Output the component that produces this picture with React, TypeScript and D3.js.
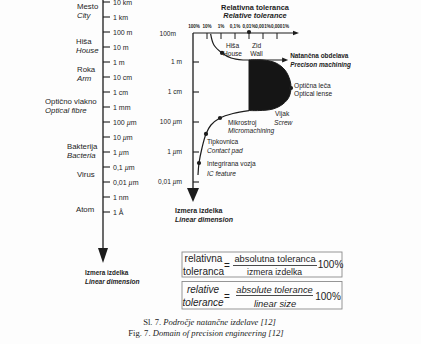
import React from "react";
import * as d3 from "d3";

// ---------- data ----------
const sizeTicks = [1e4, 1e3, 1e2, 10, 1, 0.1, 0.01, 1e-3, 1e-4, 1e-5, 1e-6, 1e-7, 1e-8, 1e-9, 1e-10];
const sizeTickLabels = ["10 km", "1 km", "100 m", "10 m", "1 m", "10 cm", "1 cm", "1 mm", "100 µm", "10 µm", "1 µm", "0,1 µm", "0,01 µm", "1 nm", "1 Å"];

const objectNamesSl = ["Mesto", "Hiša", "Roka", "Optično vlakno", "Bakterija", "Virus", "Atom"];
const objectNamesEn = ["City", "House", "Arm", "Optical fibre", "Bacteria", "", ""];
const objectSizes = [2500, 12, 0.17, 1.1e-3, 1.1e-6, 3e-8, 1.6e-10];

const rightSizeTicks = [100, 1, 0.01, 1e-4, 1e-6, 1e-8];
const rightSizeLabels = ["100m", "1 m", "1 cm", "100 µm", "1 µm", "0,01 µm"];

const tolTicks = [100, 10, 1, 0.1, 0.01, 0.001, 0.0001];
const tolLabels = ["100%", "10%", "1%", "0,1%", "0,01%", "0,001%", "0,0001%"];

// [relative tolerance %, linear size m]
const conventionalCurve: [number, number][] = [
  [5.5, 75], [3.2, 13.6], [0.85, 4], [0.19, 1.85], [0.027, 1.36],
];
const conventionalArrowEnd: [number, number] = [1.6e-5, 1.36];
const precisionRegion: [number, number][] = [
  [0.01, 1.36], [0.001, 1.36], [1.2e-4, 0.86], [2.7e-5, 0.29], [1.2e-5, 0.063],
  [1e-5, 0.0185], [1.4e-5, 0.0046], [3.7e-5, 0.0016], [1.9e-4, 7.4e-4],
  [1.9e-3, 5.8e-4], [0.01, 5.8e-4],
];
const microCurve: [number, number][] = [
  [0.01, 5.8e-4], [0.14, 3.7e-4], [1.18, 1.85e-4], [5.2, 6.3e-5], [11.8, 1.6e-5],
  [22.8, 1.85e-6], [37.3, 1.85e-7], [44, 2.9e-8],
];
const houseDot: [number, number] = [0.85, 4];
const wallDot: [number, number] = [0.01, 100];
const lensDot: [number, number] = [1e-5, 0.0185];
const microDot: [number, number] = [1.18, 1.85e-4];
const padDot: [number, number] = [11.8, 1.6e-5];
const icDot: [number, number] = [37.3, 1.85e-7];

// ---------- layout ----------
const leftLabelX = [77, 76, 77, 45, 67, 77, 76];
const SANS = "'Liberation Sans', Arial, sans-serif";
const SERIF = "'Liberation Serif', 'Times New Roman', serif";
const INK = "#1c1c1c";

function mu(label: string) {
  const parts = label.split("µ");
  if (parts.length === 1) return label;
  return (
    <>
      {parts[0]}
      <tspan fontStyle="italic">µ</tspan>
      {parts[1]}
    </>
  );
}

export default function App() {
  const y = d3.scaleLog().domain([1e4, 1e-10]).range([2, 212]);
  const x = d3.scaleLog().domain([100, 1e-4]).range([193, 277]);
  const axL = 103;
  const axR = 193;
  const topY = 33;

  const line = d3
    .line<[number, number]>()
    .x((d) => x(d[0]))
    .y((d) => y(d[1]))
    .curve(d3.curveCatmullRom.alpha(0.5));

  const convPath = line(conventionalCurve) + ` L${x(conventionalArrowEnd[0]) - 5},${y(conventionalArrowEnd[1])}`;
  const ax = x(conventionalArrowEnd[0]);
  const ay = y(conventionalArrowEnd[1]);
  const regionPath = line(precisionRegion) + "Z";
  const microPath = line(microCurve) || "";

  const dot = (p: [number, number], k: string) => (
    <circle key={k} cx={x(p[0])} cy={y(p[1])} r={2.1} fill={INK} />
  );

  return (
    <svg
      width={421}
      height={344}
      style={{ position: "absolute", left: 0, top: 0, background: "#fdfdfd" }}
      fontFamily={SANS}
    >
      <rect x={0} y={0} width={421} height={344} fill="#fdfdfd" />
      <g opacity={0.995} fill={INK}>
      {/* ---------- left axis ---------- */}
      <line x1={axL} x2={axL} y1={-4} y2={250} stroke={INK} strokeWidth={1.3} />
      <polygon points={`${axL - 5},248 ${axL + 5},248 ${axL},263`} fill={INK} />
      {sizeTicks.map((v, i) => (
        <g key={"lt" + i}>
          <line x1={axL} x2={axL + 7} y1={y(v)} y2={y(v)} stroke={INK} strokeWidth={1.1} />
          <text x={axL + 10} y={y(v) + 2.5} fontSize={7}>
            {mu(sizeTickLabels[i])}
          </text>
        </g>
      ))}
      {objectNamesSl.map((n, i) => {
        const hasEn = objectNamesEn[i] !== "";
        const cy = y(objectSizes[i]);
        return (
          <g key={"ol" + i}>
            <text x={leftLabelX[i]} y={(hasEn ? cy - 4.5 : cy) + 2.6} fontSize={7.8}>
              {n}
            </text>
            {hasEn && (
              <text x={leftLabelX[i]} y={cy + 4.5 + 2.6} fontSize={7.8} fontStyle="italic">
                {objectNamesEn[i]}
              </text>
            )}
          </g>
        );
      })}
      <text x={85} y={274.5} fontSize={6.4} fontWeight="bold">Izmera izdelka</text>
      <text x={85} y={283.5} fontSize={6.6} fontWeight="bold" fontStyle="italic">Linear dimension</text>

      {/* ---------- right diagram ---------- */}
      <text x={255} y={9.5} fontSize={7.4} fontWeight="bold" textAnchor="middle">Relativna toleranca</text>
      <text x={255} y={17.5} fontSize={7.4} fontWeight="bold" fontStyle="italic" textAnchor="middle">Relative tolerance</text>

      <line x1={axR} x2={axR} y1={topY} y2={190} stroke={INK} strokeWidth={1.3} />
      <polygon points={`${axR - 6},188 ${axR + 6},188 ${axR},202`} fill={INK} />
      <line x1={axR} x2={296} y1={topY} y2={topY} stroke={INK} strokeWidth={1.1} />
      <polygon points={`293,${topY - 2.2} 299,${topY} 293,${topY + 2.2}`} fill={INK} />
      {tolTicks.map((v, i) => (
        <g key={"tt" + i}>
          {i > 0 && <line x1={x(v)} x2={x(v)} y1={topY} y2={topY + 6} stroke={INK} strokeWidth={1} />}
          <text x={x(v) + (i === 0 ? 1 : i === 6 ? 3 : 0)} y={topY - 5} fontSize={4.6} fontWeight="bold" textAnchor="middle">
            {tolLabels[i]}
          </text>
        </g>
      ))}
      {rightSizeTicks.map((v, i) => (
        <g key={"rt" + i}>
          {i > 0 && <line x1={axR} x2={axR + 6} y1={y(v)} y2={y(v)} stroke={INK} strokeWidth={1.1} />}
          <text x={i === 0 ? 176 : 182} y={y(v) + (i === 0 ? 3.5 : 2.3)} fontSize={6.6} textAnchor="end">
            {mu(rightSizeLabels[i])}
          </text>
        </g>
      ))}

      <path d={regionPath} fill="#151515" stroke={INK} strokeWidth={1} />
      <path d={convPath} fill="none" stroke={INK} strokeWidth={1.2} />
      <polygon points={`${ax - 6},${ay - 2.6} ${ax},${ay} ${ax - 6},${ay + 2.6}`} fill={INK} />
      <path d={microPath} fill="none" stroke={INK} strokeWidth={1.2} />
      {dot(houseDot, "d1")}
      {dot(wallDot, "d2")}
      {dot(lensDot, "d3")}
      {dot(microDot, "d4")}
      {dot(padDot, "d5")}
      {dot(icDot, "d6")}

      <text x={x(houseDot[0]) + 10.5} y={47.5} fontSize={6.6} textAnchor="middle">Hiša</text>
      <text x={x(houseDot[0]) + 10.5} y={55.5} fontSize={6.6} textAnchor="middle">House</text>
      <text x={x(wallDot[0]) + 7.5} y={47.5} fontSize={6.6} textAnchor="middle">Zid</text>
      <text x={x(wallDot[0]) + 7.5} y={55.5} fontSize={6.6} textAnchor="middle">Wall</text>

      <text x={ax + 2} y={ay - 2} fontSize={6.4} fontWeight="bold">Natančna obdelava</text>
      <text x={ax + 2} y={ay + 7.5} fontSize={6.4} fontWeight="bold" fontStyle="italic">Precison machining</text>

      <text x={x(lensDot[0]) + 3} y={y(lensDot[1]) + 0.5} fontSize={6.6}>Optična leča</text>
      <text x={x(lensDot[0]) + 3} y={y(lensDot[1]) + 8.5} fontSize={6.6}>Optical lense</text>

      <text x={275} y={115.5} fontSize={6.6}>Vijak</text>
      <text x={274} y={124.5} fontSize={6.6} fontStyle="italic">Screw</text>

      <text x={x(microDot[0]) + 8} y={y(microDot[1]) + 7} fontSize={6.6}>Mikrostroj</text>
      <text x={x(microDot[0]) + 8} y={y(microDot[1]) + 15} fontSize={6.6} fontStyle="italic">Micromachining</text>

      <text x={207} y={y(padDot[1]) + 10.5} fontSize={6.6}>Tipkovnica</text>
      <text x={207} y={y(padDot[1]) + 19.5} fontSize={6.6} fontStyle="italic">Contact pad</text>

      <text x={207} y={y(icDot[1]) + 3} fontSize={6.6}>Integrirana vozja</text>
      <text x={207} y={y(icDot[1]) + 13} fontSize={6.6} fontStyle="italic">IC feature</text>

      <text x={175} y={212.5} fontSize={7} fontWeight="bold">Izmera izdelka</text>
      <text x={175} y={221.5} fontSize={7} fontWeight="bold" fontStyle="italic">Linear dimension</text>

      {/* ---------- formulas ---------- */}
      <rect x={182} y={252} width={160} height={25} fill="none" stroke="#8a8a8a" strokeWidth={0.9} />
      <text x={203.5} y={261.5} fontSize={10} textAnchor="middle">relativna</text>
      <text x={203.5} y={275} fontSize={10} textAnchor="middle">toleranca</text>
      <text x={227} y={268.5} fontSize={10} textAnchor="middle">=</text>
      <text x={275} y={262} fontSize={9.3} textAnchor="middle">absolutna toleranca</text>
      <line x1={233} x2={317} y1={265.5} y2={265.5} stroke={INK} strokeWidth={0.8} />
      <text x={274.5} y={275} fontSize={8.6} textAnchor="middle">izmera izdelka</text>
      <text x={330.5} y={268} fontSize={10} textAnchor="middle">100%</text>

      <rect x={182} y={281.5} width={160} height={27.5} fill="none" stroke="#8a8a8a" strokeWidth={0.9} />
      <text x={203} y={292.5} fontSize={10} fontStyle="italic" textAnchor="middle">relative</text>
      <text x={203} y={305.5} fontSize={10} fontStyle="italic" textAnchor="middle">tolerance</text>
      <text x={227} y={299.5} fontSize={10} textAnchor="middle">=</text>
      <text x={274.5} y={292.5} fontSize={9.4} fontStyle="italic" textAnchor="middle">absolute tolerance</text>
      <line x1={236} x2={313} y1={295.5} y2={295.5} stroke={INK} strokeWidth={0.8} />
      <text x={275} y={306.5} fontSize={9.4} fontStyle="italic" textAnchor="middle">linear size</text>
      <text x={328} y={299.5} fontSize={10} textAnchor="middle">100%</text>

      {/* ---------- caption ---------- */}
      <text x={209.5} y={325} fontSize={8.6} fontFamily={SERIF} textAnchor="middle">
        Sl. 7. <tspan fontStyle="italic">Področje natančne izdelave [12]</tspan>
      </text>
      <text x={206} y={336} fontSize={8.6} fontFamily={SERIF} textAnchor="middle">
        Fig. 7. <tspan fontStyle="italic">Domain of precision engineering [12]</tspan>
      </text>
      </g>
    </svg>
  );
}
